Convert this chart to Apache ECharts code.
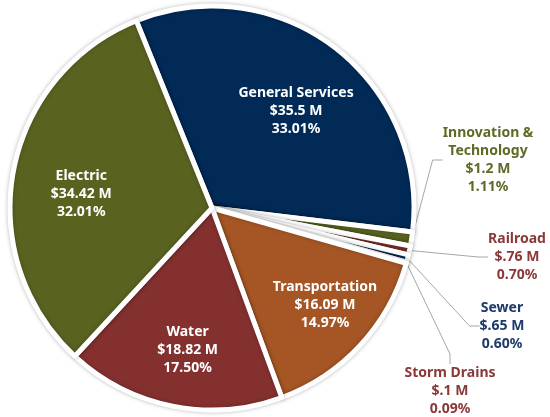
<!DOCTYPE html>
<html>
<head>
<meta charset="utf-8">
<script src="https://cdn.jsdelivr.net/npm/echarts@6/dist/echarts.min.js"></script>
<style>
  html, body { margin: 0; padding: 0; background: #fff; }
  #chart { width: 550px; height: 417px; }
</style>
</head>
<body>
<div id="chart"></div>
<script>
// budget by department, in $ millions
var names = ['General Services', 'Innovation &\nTechnology', 'Railroad', 'Sewer', 'Storm Drains', 'Transportation', 'Water', 'Electric'];
var amounts = [35.5, 1.2, 0.76, 0.65, 0.1, 16.09, 18.82, 34.42];
var shares = ['33.01%', '1.11%', '0.70%', '0.60%', '0.09%', '14.97%', '17.50%', '32.01%'];
var colors = ['#012a57', '#5a6420', '#86302f', '#0f2f5c', '#86302f', '#a65625', '#84302f', '#5a6220'];
var labelColors = ['#fff', '#5e6a26', '#8b3838', '#1d3a68', '#8b3838', '#fff', '#fff', '#fff'];
var isSmall = [false, true, true, true, true, false, false, false];

// where the outside labels sit (x, y of label centre)
var outsidePos = {1: [488, 160], 2: [517, 257], 3: [502, 326], 4: [450, 391]};

var chart = echarts.init(document.getElementById('chart'));

function money(v) {
    return '$' + String(v).replace(/^0\./, '.') + ' M';
}

var cx = 212, cy = 208, R = 202;

var mainData = names.map(function (n, i) {
    return {
        name: n,
        value: amounts[i],
        itemStyle: { color: colors[i] },
        label: { show: isSmall[i], color: labelColors[i] },
        labelLine: { show: isSmall[i] }
    };
});

var labelData = names.map(function (n, i) {
    var d = {
        name: n,
        value: amounts[i],
        label: { show: !isSmall[i] }
    };
    if (n === 'Transportation') d.label.offset = [12, -5];
    return d;
});

var font = { fontFamily: 'Noto Sans', fontWeight: 'bold', fontSize: 14, lineHeight: 18 };

var option = {
    animation: false,
    series: [
        {
            type: 'pie',
            center: [cx, cy],
            radius: [0, R],
            startAngle: 112,
            clockwise: true,
            avoidLabelOverlap: false,
            data: mainData,
            itemStyle: {
                borderColor: '#fff',
                borderWidth: 5,
                shadowBlur: 4,
                shadowColor: 'rgba(0,0,0,0.25)'
            },
            label: Object.assign({
                position: 'outside',
                align: 'center',
                formatter: function (p) {
                    return p.name + '\n' + money(p.value) + '\n' + shares[p.dataIndex];
                }
            }, font),
            labelLine: {
                lineStyle: { color: '#a6a6a6', width: 1 },
                length: 20,
                length2: 10
            },
            labelLayout: function (p) {
                var pos = outsidePos[p.dataIndex];
                if (!pos) return {};
                return {
                    x: pos[0],
                    y: pos[1],
                    align: 'center',
                    verticalAlign: 'middle'
                };
            },
            emphasis: { disabled: true }
        },
        {
            // transparent overlay just to place inside labels further out
            type: 'pie',
            center: [cx + 2, cy + 10],
            radius: [0, 264],
            startAngle: 112,
            clockwise: true,
            silent: true,
            data: labelData,
            itemStyle: { color: 'rgba(0,0,0,0)' },
            label: Object.assign({
                position: 'inside',
                color: '#fff',
                formatter: function (p) {
                    return p.name + '\n' + money(p.value) + '\n' + shares[p.dataIndex];
                }
            }, font),
            labelLine: { show: false },
            emphasis: { disabled: true }
        }
    ]
};

chart.setOption(option);
</script>
</body>
</html>
